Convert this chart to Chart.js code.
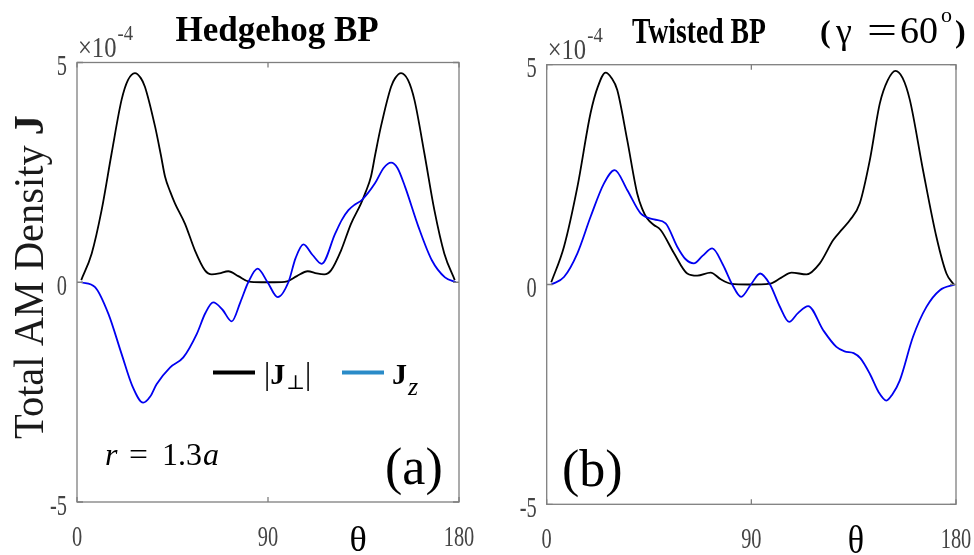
<!DOCTYPE html>
<html>
<head>
<meta charset="utf-8">
<script src="https://cdn.jsdelivr.net/npm/chart.js"></script>
<style>
  body { margin: 0; padding: 0; background: #fff; }
  .wrap { position: relative; width: 974px; height: 555px; }
  canvas { position: absolute; top: 0; }
  #hedgehog { left: 0; }
  #twisted { left: 487px; }
</style>
</head>
<body>
<div class="wrap">
  <canvas id="hedgehog" width="487" height="555"></canvas>
  <canvas id="twisted" width="487" height="555"></canvas>
</div>
<script>
// values in units of 1e-4, theta in degrees
const hhPerpTheta = [2, 6.9, 11.6, 16.3, 21, 24, 27.3, 30, 32, 36.8, 39.5, 41.5, 44, 46.2, 50.9, 55.6, 60.3, 63.5, 67, 71.3, 76, 80.7, 87,
  93, 99, 103.6, 108.7, 113, 116.5, 119.7, 124.4, 129.1, 133.8, 136, 138.5, 140.5, 143.2, 148, 150, 152.7, 156, 159, 163.7, 168.4, 173.1, 178];
const hhPerp = [0.05, 0.65, 1.64, 2.93, 4.15, 4.6, 4.76, 4.65, 4.45, 3.54, 2.9, 2.4, 2.05, 1.79, 1.33, 0.72, 0.27, 0.18, 0.2, 0.25, 0.14, 0.02, 0,
  0, 0.02, 0.14, 0.25, 0.2, 0.18, 0.27, 0.72, 1.33, 1.79, 2.05, 2.4, 2.9, 3.54, 4.45, 4.65, 4.76, 4.6, 4.15, 2.93, 1.64, 0.65, 0.05];

const hhJzTheta = [2, 8.5, 14.8, 21, 26, 31.2, 34.5, 37.5, 43.8, 50.1, 56.4, 60.5, 64.2, 68.5, 72.9, 77, 80.7, 85.1, 89.8, 94.6, 99.6,
  103, 106.7, 111, 115.3, 121.6, 124.8, 127.9, 131, 134.2, 140.4, 144.5, 148, 151, 154.6, 160.9, 167.2, 173.4, 178.5];
const hhJz = [0, -0.11, -0.72, -1.63, -2.35, -2.74, -2.6, -2.32, -1.94, -1.71, -1.18, -0.7, -0.46, -0.62, -0.89, -0.45, 0, 0.31, 0, -0.34, 0,
  0.55, 0.86, 0.62, 0.42, 1.1, 1.42, 1.64, 1.77, 1.87, 2.25, 2.6, 2.72, 2.6, 2.17, 1.26, 0.5, 0.11, 0];

const twPerpTheta = [2, 7.6, 13.5, 19.3, 22.5, 25.9, 28.5, 31, 35.4, 39.8, 42, 44.2, 47, 50.1, 56, 61.8, 66.2, 72.1, 76.5, 80.9, 88.8,
  98.2, 103, 107.7, 114.3, 120.1, 126, 130, 133.3, 137.7, 142.1, 146.5, 150, 153.4, 156.5, 159.7, 165.5, 171.4, 175.8, 179];
const twPerp = [0.05, 0.86, 2.22, 3.9, 4.5, 4.82, 4.7, 4.43, 3.29, 2.07, 1.72, 1.5, 1.36, 1.24, 0.71, 0.25, 0.2, 0.27, 0.12, 0.02, 0,
  0.02, 0.15, 0.27, 0.23, 0.48, 1.01, 1.26, 1.46, 1.85, 2.83, 4.12, 4.65, 4.86, 4.7, 4.2, 2.6, 1.08, 0.25, 0];

const twJzTheta = [2, 7.6, 13.5, 19.3, 25.2, 29.9, 35.4, 41.3, 47.2, 52.3, 57.4, 61, 64.7, 68.5, 72.8, 77.5, 81.6, 85.5, 89.8, 93.9, 98.2,
  102.5, 106.6, 110.5, 115, 121.6, 127.4, 131, 135, 138, 142.1, 146, 149.4, 152, 155.3, 161.1, 167, 172.9, 179.5];
const twJz = [0, 0.17, 0.71, 1.54, 2.3, 2.6, 2.15, 1.62, 1.48, 1.39, 0.86, 0.58, 0.48, 0.65, 0.82, 0.45, 0, -0.28, 0, 0.25, 0,
  -0.5, -0.85, -0.65, -0.49, -1.04, -1.42, -1.52, -1.56, -1.68, -2.03, -2.45, -2.64, -2.5, -2.18, -1.19, -0.51, -0.13, 0];

const xTicks = [0, 90, 180];
const xTickLabels = ['0', '90', '180'];
const yTicks = [-5, 0, 5];
const yTickLabels = ['-5', '0', '5'];

const SERIF = '"Liberation Serif", "DejaVu Serif", serif';

const pts = (xs, ys) => xs.map((x, i) => ({ x: x, y: ys[i] }));

function txt(ctx, s, x, y, font, color, align, sx) {
  ctx.save();
  ctx.font = font;
  ctx.fillStyle = color || '#000';
  ctx.textAlign = align || 'left';
  ctx.textBaseline = 'alphabetic';
  ctx.translate(x, y);
  ctx.scale(sx || 1, 1);
  ctx.fillText(s, 0, 0);
  ctx.restore();
}

// draw several text pieces one after another
function runs(ctx, x, y, parts, align) {
  let w = 0;
  parts.forEach(p => {
    ctx.font = p.f;
    p.w = ctx.measureText(p.t).width * (p.sx || 1) + (p.gap || 0);
    w += p.w;
  });
  let cx = align === 'center' ? x - w / 2 : x;
  parts.forEach(p => {
    txt(ctx, p.t, cx, y + (p.dy || 0), p.f, p.c || '#000', 'left', p.sx);
    cx += p.w;
  });
}

const frame = {
  id: 'frame',
  afterDraw(chart, args, o) {
    const ctx = chart.ctx, a = chart.chartArea;
    const xs = chart.scales.x, ys = chart.scales.y;
    ctx.save();
    ctx.strokeStyle = '#7f7f7f';
    ctx.lineWidth = 1.3;
    ctx.strokeRect(a.left, a.top, a.right - a.left, a.bottom - a.top);
    ctx.beginPath();
    xTicks.forEach(v => {
      const px = xs.getPixelForValue(v);
      ctx.moveTo(px, a.bottom); ctx.lineTo(px, a.bottom - 5);
      ctx.moveTo(px, a.top); ctx.lineTo(px, a.top + 5);
    });
    yTicks.forEach(v => {
      const py = ys.getPixelForValue(v);
      ctx.moveTo(a.left, py); ctx.lineTo(a.left + 6, py);
      ctx.moveTo(a.right, py); ctx.lineTo(a.right - 6, py);
    });
    ctx.stroke();
    ctx.restore();

    const tickFont = '30px ' + SERIF;
    xTicks.forEach((v, i) => txt(ctx, xTickLabels[i], xs.getPixelForValue(v), a.bottom + 44, tickFont, '#444', 'center', 0.68));
    yTicks.forEach((v, i) => txt(ctx, yTickLabels[i], a.left - 10, ys.getPixelForValue(v) + 12.5, tickFont, '#444', 'right', 0.68));

    runs(ctx, a.left + 1, a.top - 6, [
      { t: '\u00d710', f: '30px ' + SERIF, c: '#444', sx: 0.82, gap: 1 },
      { t: '-4', f: '22px ' + SERIF, c: '#444', sx: 0.85, dy: -17 }
    ]);

    txt(ctx, '\u03b8', o.thetaX, a.bottom + 49, o.thetaFont, '#000', 'center', o.thetaSx);
    txt(ctx, o.tag, o.tagX, o.tagY, '52px ' + SERIF, '#000', 'left');
    if (o.extra) o.extra(ctx);
  }
};

function makeChart(id, perpTheta, perp, jzTheta, jz, pad, decor) {
  return new Chart(document.getElementById(id), {
    type: 'line',
    data: {
      datasets: [
        { label: 'Jz', data: pts(jzTheta, jz), borderColor: '#0000f0', order: 0 },
        { label: '|J\u22a5|', data: pts(perpTheta, perp), borderColor: '#000', order: 1 }
      ]
    },
    options: {
      responsive: false,
      animation: false,
      events: [],
      layout: { padding: pad },
      elements: {
        point: { radius: 0 },
        line: { borderWidth: 1.8, cubicInterpolationMode: 'monotone', fill: false }
      },
      scales: {
        x: { type: 'linear', min: 0, max: 180, display: false },
        y: { type: 'linear', min: -5, max: 5, display: false }
      },
      plugins: {
        legend: { display: false },
        tooltip: { enabled: false },
        frame: decor
      }
    },
    plugins: [frame]
  });
}

makeChart('hedgehog', hhPerpTheta, hhPerp, hhJzTheta, hhJz,
  { left: 77, right: 28, top: 62.5, bottom: 53 },
  {
    thetaX: 358, thetaFont: '36px ' + SERIF, thetaSx: 1,
    tag: '(a)', tagX: 385, tagY: 484,
    extra(ctx) {
      txt(ctx, 'Hedgehog BP', 277, 41, 'bold 35px ' + SERIF, '#000', 'center');
      // rotated y title
      ctx.save();
      ctx.translate(43, 277);
      ctx.rotate(-Math.PI / 2);
      runs(ctx, 0, 0, [
        { t: 'Total AM Density ', f: '43px ' + SERIF, c: '#1a1a1a', sx: 0.94 },
        { t: 'J', f: 'bold 43px ' + SERIF, c: '#1a1a1a', sx: 0.94 }
      ], 'center');
      ctx.restore();
      // legend
      ctx.save();
      ctx.lineWidth = 4;
      ctx.strokeStyle = '#000';
      ctx.beginPath(); ctx.moveTo(213, 372.5); ctx.lineTo(255, 372.5); ctx.stroke();
      ctx.strokeStyle = '#2a8bc8';
      ctx.beginPath(); ctx.moveTo(342, 372.5); ctx.lineTo(384, 372.5); ctx.stroke();
      ctx.restore();
      runs(ctx, 264, 384, [
        { t: '|', f: '31px ' + SERIF },
        { t: 'J', f: 'bold 30px ' + SERIF, gap: 1 },
        { t: '\u22a5', f: '20px ' + SERIF, dy: 5 },
        { t: '|', f: '31px ' + SERIF, gap: 0 }
      ]);
      runs(ctx, 392, 384, [
        { t: 'J', f: 'bold 30px ' + SERIF, gap: 1 },
        { t: 'z', f: 'italic 26px ' + SERIF, dy: 11 }
      ]);
      // r = 1.3a
      txt(ctx, 'r', 105, 465, 'italic 32px ' + SERIF);
      txt(ctx, '=', 129, 465, '32px ' + SERIF, '#000', 'left', 1.05);
      txt(ctx, '1.3', 162, 465, '32px ' + SERIF);
      txt(ctx, 'a', 203, 465, 'italic 32px ' + SERIF);
    }
  });

makeChart('twisted', twPerpTheta, twPerp, twJzTheta, twJz,
  { left: 59.7, right: 18, top: 64.7, bottom: 50.7 },
  {
    thetaX: 369, thetaFont: '40px ' + SERIF, thetaSx: 0.85,
    tag: '(b)', tagX: 75, tagY: 486,
    extra(ctx) {
      txt(ctx, 'Twisted BP', 145, 43, 'bold 35px ' + SERIF, '#000', 'left', 0.79);
      txt(ctx, '(', 333, 42, 'bold 32px ' + SERIF);
      txt(ctx, '\u03b3', 349, 43, '36px ' + SERIF);
      txt(ctx, '=', 380, 43, '38px ' + SERIF, '#000', 'left', 1.4);
      txt(ctx, '60', 413, 43, '38px ' + SERIF);
      txt(ctx, 'o', 454, 22, '22px ' + SERIF);
      txt(ctx, ')', 468, 42, 'bold 32px ' + SERIF);
    }
  });
</script>
</body>
</html>
